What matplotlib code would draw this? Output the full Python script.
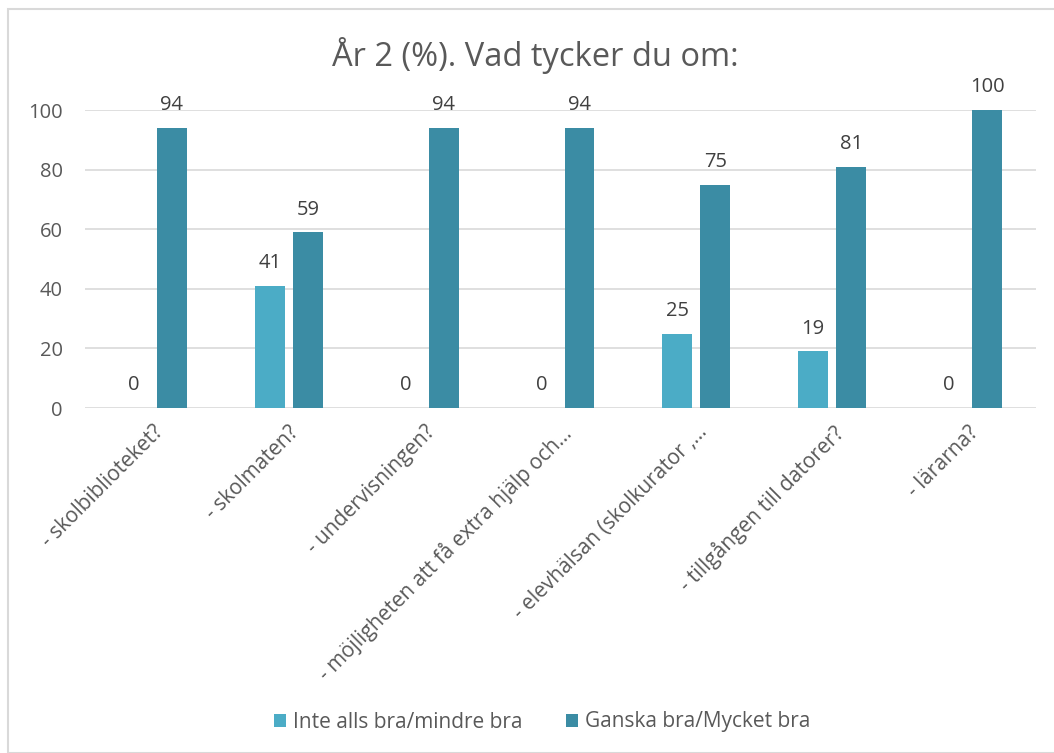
import matplotlib
matplotlib.use("Agg")
import matplotlib.pyplot as plt
import numpy as np
from matplotlib.patches import Rectangle

categories = ["- skolbiblioteket?", "- skolmaten?", "- undervisningen?",
              "- möjligheten att få extra hjälp och…", "- elevhälsan (skolkurator ,…",
              "- tillgången till datorer?", "- lärarna?"]
series_names = ["Inte alls bra/mindre bra", "Ganska bra/Mycket bra"]
inte_bra = [0, 41, 0, 0, 25, 19, 0]
ganska_bra = [94, 59, 94, 94, 75, 81, 100]
yticks = [0, 20, 40, 60, 80, 100]

light = "#4BACC6"
dark = "#3B8CA4"
txt = "#595959"
font = "Open Sans"

fig = plt.figure(figsize=(10.54, 7.53), dpi=100)
fig.patches.append(Rectangle((8/1054, 0.0), 1 - 8/1054 + 0.01, 1 - 9/753, transform=fig.transFigure,
                             fill=False, edgecolor="#D9D9D9", linewidth=1.5))
ax = fig.add_axes([85/1054, 1 - 408/753, (1036-85)/1054, (408-110)/753])

x = np.arange(len(categories))
w = 0.22
off = 0.14
b1 = ax.bar(x - off, inte_bra, w, color=light, label=series_names[0], zorder=3)
b2 = ax.bar(x + off, ganska_bra, w, color=dark, label=series_names[1], zorder=3)
for bars in (b1, b2):
    for r in bars:
        h = r.get_height()
        ax.annotate(f"{h:g}", (r.get_x() + r.get_width()/2, h), xytext=(0, 9),
                    textcoords="offset points", ha="center", va="bottom",
                    fontsize=14.5, color="#404040", family=font)

ax.set_xlim(-0.5, len(categories) - 0.5)
ax.set_ylim(0, 100)
ax.set_yticks(yticks)
ax.set_yticklabels([str(v) for v in yticks], fontsize=14.5, color=txt, family=font)
ax.yaxis.grid(True, color="#D9D9D9", linewidth=1.2, zorder=0)
ax.tick_params(axis="both", length=0)
ax.tick_params(axis="y", pad=16)
for s in ax.spines.values():
    s.set_visible(False)
ax.set_xticks(x)
ax.set_xticklabels(categories, rotation=45, ha="right", rotation_mode="anchor",
                   fontsize=15, color=txt, family=font)
ax.tick_params(axis="x", pad=10)

fig.text(535/1054, 1 - 56/753, "År 2 (%). Vad tycker du om:", ha="center", va="center",
         fontsize=23.5, color=txt, family=font)

leg = fig.legend(handles=[b1, b2], labels=series_names, loc="center",
                 bbox_to_anchor=(542/1054, 1 - 722/753), ncol=2, frameon=False,
                 prop={"family": font, "size": 15}, handlelength=0.6, handleheight=0.6,
                 handletextpad=0.3, columnspacing=2.1)
for t in leg.get_texts():
    t.set_color(txt)

fig.savefig("out.png", dpi=100, facecolor="white")
